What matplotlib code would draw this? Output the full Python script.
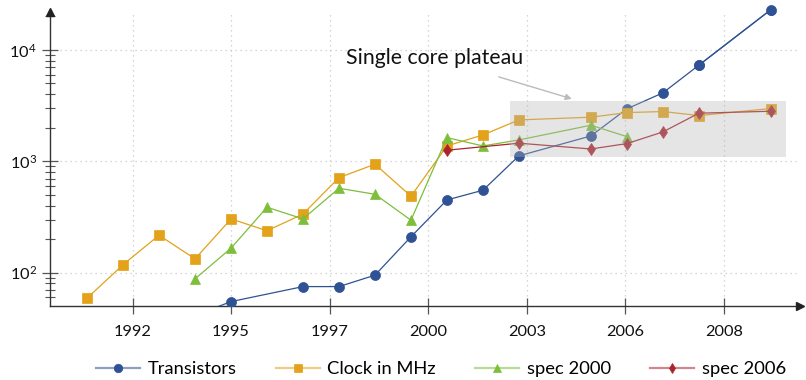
import matplotlib
matplotlib.use("Agg")
import matplotlib.pyplot as plt
from matplotlib.lines import Line2D
from matplotlib.patches import Rectangle
from matplotlib.ticker import LogLocator, NullFormatter, FixedLocator, FixedFormatter
from matplotlib.legend_handler import HandlerTuple
import numpy as np

plt.rcParams['font.family'] = ['Lato', 'DejaVu Sans']
plt.rcParams['mathtext.fontset'] = 'custom'
plt.rcParams['mathtext.rm'] = 'Lato'
plt.rcParams['mathtext.it'] = 'Lato:italic'

# ---- data ----
trans_years = [1993, 1995, 1997, 1998, 1999, 2000, 2001, 2002, 2003, 2005, 2006, 2007, 2008, 2010]
trans_vals = [31, 55, 75, 75, 95, 210, 450, 550, 1120, 1690, 2960, 4120, 7300, 23000]

clock_years = [1991, 1992, 1993, 1994, 1995, 1996, 1997, 1998, 1999, 2000, 2001, 2002, 2003, 2005, 2006, 2007, 2008, 2010]
clock_vals = [59, 118, 217, 133, 304, 238, 336, 714, 942, 486, 1374, 1726, 2355, 2490, 2740, 2800, 2576, 2980]

spec2000_years = [1994, 1995, 1996, 1997, 1998, 1999, 2000, 2001, 2002, 2003, 2005, 2006]
spec2000_vals = [88, 166, 387, 304, 573, 506, 296, 1633, 1374, 1556, 2110, 1667]

spec2006_years = [2001, 2003, 2005, 2006, 2007, 2008, 2010]
spec2006_vals = [1258, 1455, 1291, 1443, 1836, 2706, 2817]

tick_pos = [1992.28, 1995.0, 1997.75, 2000.47, 2003.22, 2005.94, 2008.69]
tick_labels = ['1992', '1995', '1997', '2000', '2003', '2006', '2008']

series_names = ['Transistors', 'Clock in MHz', 'spec 2000', 'spec 2006']
colors = ['#2f5294', '#e3a21a', '#7dbf3a', '#aa232d']
markers = ['o', 's', '^', 'd']
msizes = [7.2, 6.8, 6.8, 6.4]

plateau_x = (2002.75, 2010.42)
plateau_y = (1100, 3490)

# ---- figure ----
W, H = 806, 380
fig = plt.figure(figsize=(W / 100, H / 100), dpi=100)
ax = fig.add_axes([50 / W, (H - 306) / H, (800 - 50) / W, (306 - 12) / H])
ax.set_yscale('log')
ax.set_xlim(1989.97, 2010.81)
ax.set_ylim(10 ** 1.7008, 10 ** 4.341)

data = [(trans_years, trans_vals), (clock_years, clock_vals),
        (spec2000_years, spec2000_vals), (spec2006_years, spec2006_vals)]
handles = []
for (xs, ys), name, c, m, ms in zip(data, series_names, colors, markers, msizes):
    ax.plot(xs, ys, color=c, lw=0.9, marker=m, ms=ms, mec=c, mew=0.5, zorder=3)
    hl = Line2D([], [], color=c, lw=1.6, alpha=0.55)
    hm = Line2D([], [], color=c, ls='none', marker=m, ms=ms * 0.85, mec=c, mew=0.5)
    handles.append((hl, hm))

# last transistor point sits above the axis top: draw unclipped
ax.plot(trans_years[-2:], trans_vals[-2:], color=colors[0], lw=0.9, marker='o', ms=7.2,
        mew=0.5, zorder=3, clip_on=False)

rect = Rectangle((plateau_x[0], plateau_y[0]), plateau_x[1] - plateau_x[0],
                 plateau_y[1] - plateau_y[0], facecolor='#b5b5b5', alpha=0.35,
                 edgecolor='none', zorder=4)
ax.add_patch(rect)

ax.text(2000.65, 7500, 'Single core plateau', ha='center', va='baseline',
        fontsize=15.3, color='#111111', zorder=5)
ax.annotate('', xy=(2004.47, 3640), xytext=(2002.44, 5730),
            arrowprops=dict(arrowstyle='-|>', color='#bbbbbb', lw=1.0,
                            mutation_scale=9, shrinkA=0, shrinkB=0), zorder=5)

# ticks
ax.xaxis.set_major_locator(FixedLocator(tick_pos))
ax.xaxis.set_major_formatter(FixedFormatter(tick_labels))
ax.yaxis.set_major_locator(LogLocator(base=10, numticks=10))
ax.yaxis.set_minor_locator(LogLocator(base=10, subs=np.arange(2, 10), numticks=10))
ax.yaxis.set_minor_formatter(NullFormatter())
ax.tick_params(axis='both', which='major', direction='inout', length=11, width=0.9,
               color='#555555', labelsize=11.8, labelcolor='#111111')
ax.tick_params(axis='y', which='minor', direction='inout', length=7, width=0.8, color='#555555')
ax.tick_params(axis='x', pad=8)
ax.tick_params(axis='y', pad=4)

ax.grid(True, which='major', ls=(0, (1, 3)), color='#c8c8c8', lw=0.9)
ax.set_axisbelow(True)

for s in ['top', 'right']:
    ax.spines[s].set_visible(False)
for s in ['left', 'bottom']:
    ax.spines[s].set_color('#333333')
    ax.spines[s].set_linewidth(1.0)

# axis arrows
ax.plot(1, 0, marker='>', ms=6, color='#222222', transform=ax.transAxes, clip_on=False, zorder=6)
ax.plot(0, 1, marker='^', ms=6, color='#222222', transform=ax.transAxes, clip_on=False, zorder=6)

ax.legend(handles, series_names, ncol=4, loc='center', bbox_to_anchor=(441 / W, (H - 369) / H),
          bbox_transform=fig.transFigure, frameon=False, fontsize=13.2,
          handler_map={tuple: HandlerTuple(ndivide=1, pad=0)},
          handlelength=2.4, handletextpad=0.4, columnspacing=2.15)

fig.savefig('out.png', dpi=100)
